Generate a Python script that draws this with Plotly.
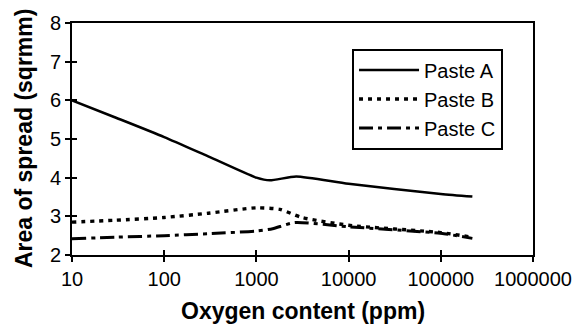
import plotly.graph_objects as go

# Data
x_a = [10, 30, 100, 300, 1000, 1400, 2700, 10000, 100000, 220000]
y_a = [6.0, 5.55, 5.05, 4.55, 4.0, 3.93, 4.03, 3.84, 3.58, 3.51]

x_b = [10, 30, 100, 300, 1000, 1800, 3100, 10000, 100000, 220000]
y_b = [2.85, 2.9, 2.97, 3.08, 3.22, 3.18, 2.97, 2.77, 2.58, 2.46]

x_c = [10, 30, 100, 300, 1000, 1500, 2600, 10000, 100000, 220000]
y_c = [2.42, 2.46, 2.5, 2.55, 2.62, 2.68, 2.84, 2.73, 2.56, 2.43]

x_ticks = [10, 100, 1000, 10000, 100000, 1000000]
x_ticktext = ["10", "100", "1000", "10000", "100000", "1000000"]
y_ticks = [2, 3, 4, 5, 6, 7, 8]

FONT = "Liberation Sans, Arial, sans-serif"

fig = go.Figure()
fig.add_trace(go.Scatter(x=x_a, y=y_a, mode="lines", name="Paste A",
                         line=dict(color="black", width=2.5, shape="spline", smoothing=0.6),
                         legendgroup="a"))
fig.add_trace(go.Scatter(x=x_b, y=y_b, mode="lines", name="Paste B",
                         line=dict(color="black", width=3.4, dash="4px,5px", shape="spline", smoothing=0.6),
                         legendgroup="b"))
fig.add_trace(go.Scatter(x=x_c, y=y_c, mode="lines", name="Paste C",
                         line=dict(color="black", width=3.0, dash="14px,5px,4px,5px", shape="spline", smoothing=0.6),
                         legendgroup="c"))

axis_common = dict(showgrid=False, zeroline=False, showline=True, linecolor="black", linewidth=2,
                   ticks="outside", ticklen=5, tickwidth=2, tickcolor="black",
                   tickfont=dict(family=FONT, size=20, color="black"))

fig.update_layout(
    width=584, height=331,
    margin=dict(l=72, r=41, t=14, b=76),
    paper_bgcolor="white", plot_bgcolor="white",
    xaxis=dict(type="log", range=[1, 6], tickvals=x_ticks, ticktext=x_ticktext,
               mirror=True, **axis_common),
    yaxis=dict(range=[2, 8], tickvals=y_ticks, mirror=True, **axis_common),
    xaxis2=dict(type="log", range=[1, 6], overlaying="x", tickvals=x_ticks, showticklabels=False,
                ticks="inside", ticklen=5, tickwidth=2, tickcolor="black", showgrid=False,
                zeroline=False, showline=False),
    yaxis2=dict(range=[2, 8], overlaying="y", tickvals=y_ticks, showticklabels=False,
                ticks="inside", ticklen=5, tickwidth=2, tickcolor="black", showgrid=False,
                zeroline=False, showline=False),
    showlegend=True,
    legend=dict(x=0.935, xanchor="right", y=0.89, yanchor="top",
                bgcolor="white", bordercolor="black", borderwidth=2,
                font=dict(family=FONT, size=20, color="black"),
                tracegroupgap=0, itemwidth=60),
    annotations=[
        dict(text="<b>Oxygen content (ppm)</b>", xref="paper", yref="paper",
             x=0.5, y=-0.241, xanchor="center", yanchor="middle", showarrow=False,
             font=dict(family=FONT, size=23, color="black")),
        dict(text="<b>Area of spread (sqrmm)</b>", xref="paper", yref="paper",
             x=-0.104, y=0.5, xanchor="center", yanchor="middle", showarrow=False, textangle=-90,
             font=dict(family=FONT, size=23, color="black")),
    ],
)
# invisible trace so overlay axes are drawn
fig.add_trace(go.Scatter(x=[10], y=[2], xaxis="x2", yaxis="y2", mode="markers",
                         marker=dict(opacity=0), showlegend=False, hoverinfo="skip"))

fig.write_html("out.html")
